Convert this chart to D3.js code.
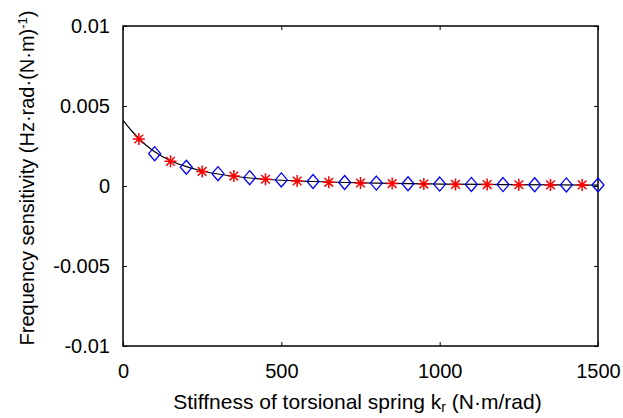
<!DOCTYPE html>
<html>
<head>
<meta charset="utf-8">
<script src="https://cdn.jsdelivr.net/npm/d3@7"></script>
<style>
body { margin: 0; background: #fff; }
text { font-family: "Liberation Sans", Arial, sans-serif; fill: #000; }
</style>
</head>
<body>
<div id="chart"></div>
<script>
var fullWidth = 623;
var fullHeight = 418;
var margin = { top: 26, bottom: 72, left: 123, right: 25 }
var width = fullWidth - margin.left - margin.right
var height = fullHeight - margin.top - margin.bottom

// curve
var curveK = [0, 25, 50, 75, 100, 150, 200, 250, 300, 400, 500, 600, 700, 800, 900, 1000, 1200, 1500]
var curveF = [0.0041, 0.0035, 0.00297, 0.00252, 0.00214, 0.00158, 0.00121, 0.00094, 0.00075, 0.0005, 0.00036, 0.00028, 0.00022, 0.00018, 0.00015, 0.00012, 0.00009, 0.00006]

// red asterisks
var starK = [50, 150, 250, 350, 450, 550, 650, 750, 850, 950, 1050, 1150, 1250, 1350, 1450]
var starF = [0.00294, 0.00154, 0.00091, 0.00062, 0.00042, 0.00031, 0.00023, 0.00019, 0.00015, 0.00012, 0.0001, 0.00009, 0.00008, 0.00007, 0.00007]

// blue diamonds
var diamK = [100, 200, 300, 400, 500, 600, 700, 800, 900, 1000, 1100, 1200, 1300, 1400, 1500]
var diamF = [0.00202, 0.00117, 0.00077, 0.00052, 0.00038, 0.00028, 0.00022, 0.00018, 0.00014, 0.00012, 0.0001, 0.00009, 0.00008, 0.00007, 0.00006]

var xTicks = [0, 500, 1000, 1500]
var yTicks = [-0.01, -0.005, 0, 0.005, 0.01]
var yTickLabels = ["-0.01", "-0.005", "0", "0.005", "0.01"]

var xScale = d3.scaleLinear().domain([0, 1500]).range([0, width])
var yScale = d3.scaleLinear().domain([-0.01, 0.01]).range([height, 0])

var svg = d3.select("#chart").append("svg")
    .attr("width", fullWidth)
    .attr("height", fullHeight)
    .append("g")
    .attr("transform", "translate(" + margin.left + "," + margin.top + ")")

// axes, ticks pointing inward on all four sides
var tickLen = 4
svg.append("g")
    .attr("transform", "translate(0," + height + ")")
    .call(d3.axisBottom(xScale).tickValues(xTicks).tickSizeInner(-tickLen).tickSizeOuter(0).tickPadding(18).tickFormat(d3.format("d")))
svg.append("g")
    .call(d3.axisTop(xScale).tickValues(xTicks).tickSizeInner(-tickLen).tickSizeOuter(0).tickFormat(""))
svg.append("g")
    .call(d3.axisLeft(yScale).tickValues(yTicks).tickSizeInner(-tickLen).tickSizeOuter(0).tickPadding(13)
        .tickFormat(function (d, i) { return yTickLabels[i] }))
svg.append("g")
    .attr("transform", "translate(" + width + ",0)")
    .call(d3.axisRight(yScale).tickValues(yTicks).tickSizeInner(-tickLen).tickSizeOuter(0).tickFormat(""))

svg.selectAll(".tick text").style("font-size", "20px").attr("fill", "#000")
svg.selectAll(".domain").remove()
svg.selectAll(".tick line").attr("stroke", "#000").attr("stroke-width", 1)

svg.append("rect")
    .attr("width", width)
    .attr("height", height)
    .attr("fill", "none")
    .attr("stroke", "#000")
    .attr("stroke-width", 1.5)

var line = d3.line()
    .x(function (d, i) { return xScale(curveK[i]) })
    .y(function (d) { return yScale(d) })
    .curve(d3.curveMonotoneX)

svg.append("path")
    .attr("d", line(curveF))
    .attr("fill", "none")
    .attr("stroke", "#000")
    .attr("stroke-width", 1.2)

// diamonds
svg.selectAll(".diam")
    .data(diamF)
    .enter()
    .append("path")
    .attr("class", "diam")
    .attr("transform", function (d, i) { return "translate(" + xScale(diamK[i]) + "," + yScale(d) + ")" })
    .attr("d", "M0,-7L6,0L0,7L-6,0Z")
    .attr("fill", "none")
    .attr("stroke", "#0000ff")
    .attr("stroke-width", 1.3)

// asterisks
svg.selectAll(".star")
    .data(starF)
    .enter()
    .append("path")
    .attr("class", "star")
    .attr("transform", function (d, i) { return "translate(" + xScale(starK[i]) + "," + yScale(d) + ")" })
    .attr("d", "M0,-6V6M-6,0H6M-4.3,-4.3L4.3,4.3M-4.3,4.3L4.3,-4.3")
    .attr("fill", "none")
    .attr("stroke", "#ff0000")
    .attr("stroke-width", 1.5)

// axis labels
svg.append("text")
    .attr("x", width / 2 - 3)
    .attr("y", height + 63)
    .style("text-anchor", "middle")
    .style("font-size", "21px")
    .html('Stiffness of torsional spring k<tspan dy="3" font-size="14px">r</tspan><tspan dy="-3"> (N·m/rad)</tspan>')

svg.append("text")
    .attr("transform", "translate(" + (-89) + "," + (height / 2 - 8) + ") rotate(-90)")
    .style("text-anchor", "middle")
    .style("font-size", "20px")
    .html('Frequency sensitivity (Hz·rad·(N·m)<tspan dy="-7" font-size="13px">-1</tspan><tspan dy="7">)</tspan>')
</script>
</body>
</html>
